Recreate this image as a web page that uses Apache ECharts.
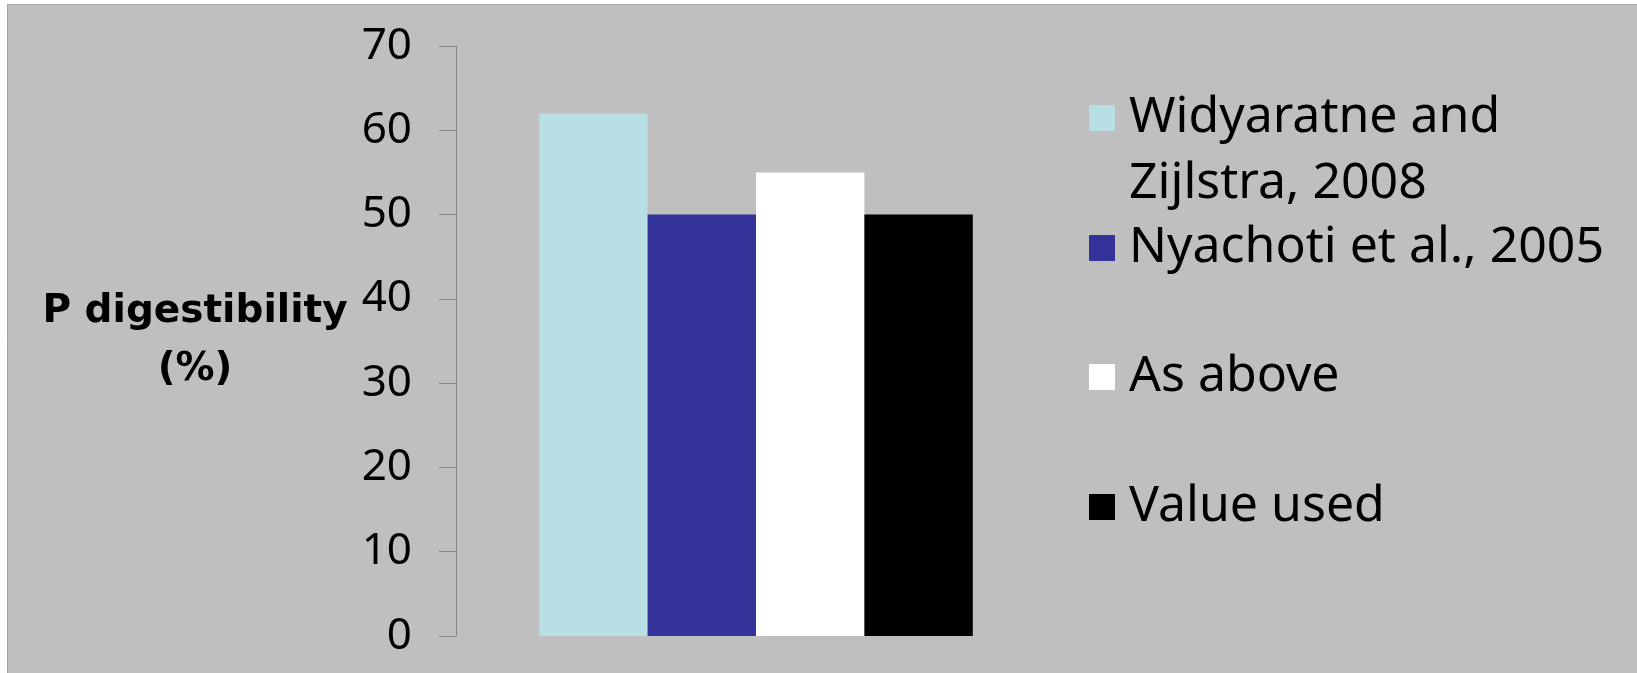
<!DOCTYPE html>
<html>
<head>
<meta charset="utf-8">
<script src="https://cdn.jsdelivr.net/npm/echarts@6/dist/echarts.min.js"></script>
<style>
  html, body { margin: 0; padding: 0; background: #ffffff; }
  #main { width: 1637px; height: 673px; }
</style>
</head>
<body>
<div id="main"></div>
<script>
// ---- data ----
const categories = [''];
const seriesNames = ['Widyaratne and\nZijlstra, 2008', 'Nyachoti et al., 2005', 'As above', 'Value used'];
const widyaratne = [62];
const nyachoti = [50];
const asAbove = [55];
const valueUsed = [50];
const yAxisTitle = 'P digestibility\n(%)';

// ---- styles ----
const barColors = ['#b8dfe3', '#333399', '#ffffff', '#000000'];
const legendTops = [19, 215, 344, 474];
const LH = 66;

const chart = echarts.init(document.getElementById('main'), null, { renderer: 'canvas' });

const seriesData = [widyaratne, nyachoti, asAbove, valueUsed];
const series = seriesNames.map((name, i) => ({
  name: name,
  type: 'bar',
  data: seriesData[i],
  barWidth: 108.4,
  barGap: '0%',
  itemStyle: { color: barColors[i] },
  emphasis: { disabled: true },
  animation: false
}));

const legends = seriesNames.map((name, i) => ({
  orient: 'vertical',
  left: 1089,
  top: legendTops[i],
  padding: 0,
  itemWidth: 26,
  itemHeight: 26,
  icon: 'rect',
  selectedMode: false,
  data: [name],
  // first entry wraps onto two lines: keep its square level with the first line
  formatter: i === 0 ? (n => '\n' + n) : (n => n),
  textStyle: {
    fontFamily: 'Noto Sans',
    fontSize: 50,
    color: '#000000',
    lineHeight: LH,
    padding: [0, 0, 0, 9]
  }
}));

chart.setOption({
  backgroundColor: '#ffffff',
  animation: false,
  graphic: [{
    type: 'rect',
    z: -100,
    silent: true,
    shape: { x: 7.5, y: 4.5, width: 1700, height: 800 },
    style: { fill: '#bfbfbf', stroke: '#a3a3a3', lineWidth: 1 }
  }],
  grid: { left: 456, top: 46, right: 581, bottom: 37, containLabel: false },
  legend: legends,
  xAxis: {
    type: 'category',
    data: categories,
    axisLine: { show: false },
    axisTick: { show: false },
    axisLabel: { show: false },
    splitLine: { show: false }
  },
  yAxis: {
    type: 'value',
    min: 0,
    max: 70,
    interval: 10,
    name: yAxisTitle,
    nameLocation: 'middle',
    nameRotate: 0,
    nameGap: 261,
    nameTextStyle: {
      fontFamily: 'DejaVu Sans',
      fontWeight: 'bold',
      fontSize: 39,
      lineHeight: 58,
      color: '#000000',
      align: 'center',
      padding: [24, 0, 0, 0]
    },
    axisLine: { show: true, lineStyle: { color: '#878787', width: 1 } },
    axisTick: { show: true, length: 17, lineStyle: { color: '#878787', width: 1 } },
    axisLabel: { fontFamily: 'Noto Sans', fontSize: 44, color: '#000000', margin: 44 },
    splitLine: { show: false }
  },
  series: series
});
</script>
</body>
</html>
